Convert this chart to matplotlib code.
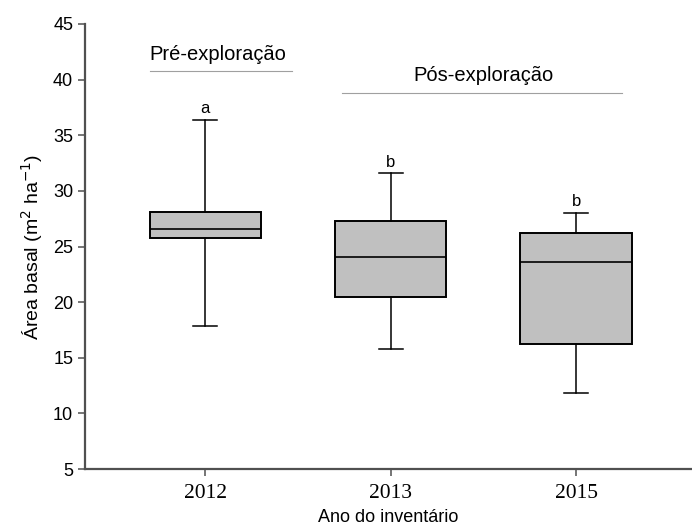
import matplotlib.pyplot as plt

# basal area per inventory year (box summary)
anos = ["2012", "2013", "2015"]
whis_min = [17.9, 15.8, 11.8]
q1 = [25.75, 20.5, 16.25]
mediana = [26.6, 24.1, 23.6]
q3 = [28.1, 27.3, 26.2]
whis_max = [36.4, 31.6, 28.05]
letras = ["a", "b", "b"]

sans = "Liberation Sans"
serif = "Liberation Serif"

fig = plt.figure(figsize=(6.92, 5.27), dpi=100)
ax = fig.add_axes([0.1228, 0.110, 0.8772, 0.8445])

stats = []
for i in range(len(anos)):
    stats.append({"med": mediana[i], "q1": q1[i], "q3": q3[i],
                  "whislo": whis_min[i], "whishi": whis_max[i],
                  "fliers": [], "label": anos[i]})

pos = [1, 2, 3]
ax.bxp(stats, positions=pos, widths=0.6, capwidths=0.13, patch_artist=True,
       showfliers=False,
       boxprops=dict(facecolor="#c0c0c0", edgecolor="black", linewidth=1.4),
       medianprops=dict(color="black", linewidth=1.2),
       whiskerprops=dict(color="black", linewidth=1.1),
       capprops=dict(color="black", linewidth=1.1))

# significance letters above the upper whiskers
for p, top, l in zip(pos, whis_max, letras):
    ax.text(p, top + 0.3, l, ha="center", va="bottom", fontsize=12, family=sans)

# period brackets
ax.plot([0.70, 1.47], [40.8, 40.8], color="#a0a0a0", linewidth=0.8, clip_on=False)
ax.text(1.07, 42.3, "Pré-exploração", ha="center", va="center", fontsize=14.5, family=sans)
ax.plot([1.74, 3.25], [38.8, 38.8], color="#a0a0a0", linewidth=0.8, clip_on=False)
ax.text(2.50, 40.35, "Pós-exploração", ha="center", va="center", fontsize=14.5, family=sans)

ax.set_xlim(0.3515, 3.625)
ax.set_ylim(5, 45)
ax.set_yticks(range(5, 50, 5))
ax.set_xticks(pos)
ax.set_xticklabels(anos, family=serif, fontsize=15.5)
for t in ax.get_yticklabels():
    t.set_family(sans)
    t.set_fontsize(13)

ax.spines["top"].set_visible(False)
ax.spines["right"].set_visible(False)
for s in ["left", "bottom"]:
    ax.spines[s].set_color("#505050")
    ax.spines[s].set_linewidth(1.6)
ax.tick_params(direction="out", length=5, width=1.1, color="#505050")
ax.tick_params(axis="x", pad=6)

ax.set_ylabel("Área basal (m$^2$ ha$^{-1}$)", family=sans, fontsize=14, labelpad=6)
ax.set_xlabel("Ano do inventário", family=sans, fontsize=13, labelpad=4)

fig.savefig("out.png", dpi=100)
